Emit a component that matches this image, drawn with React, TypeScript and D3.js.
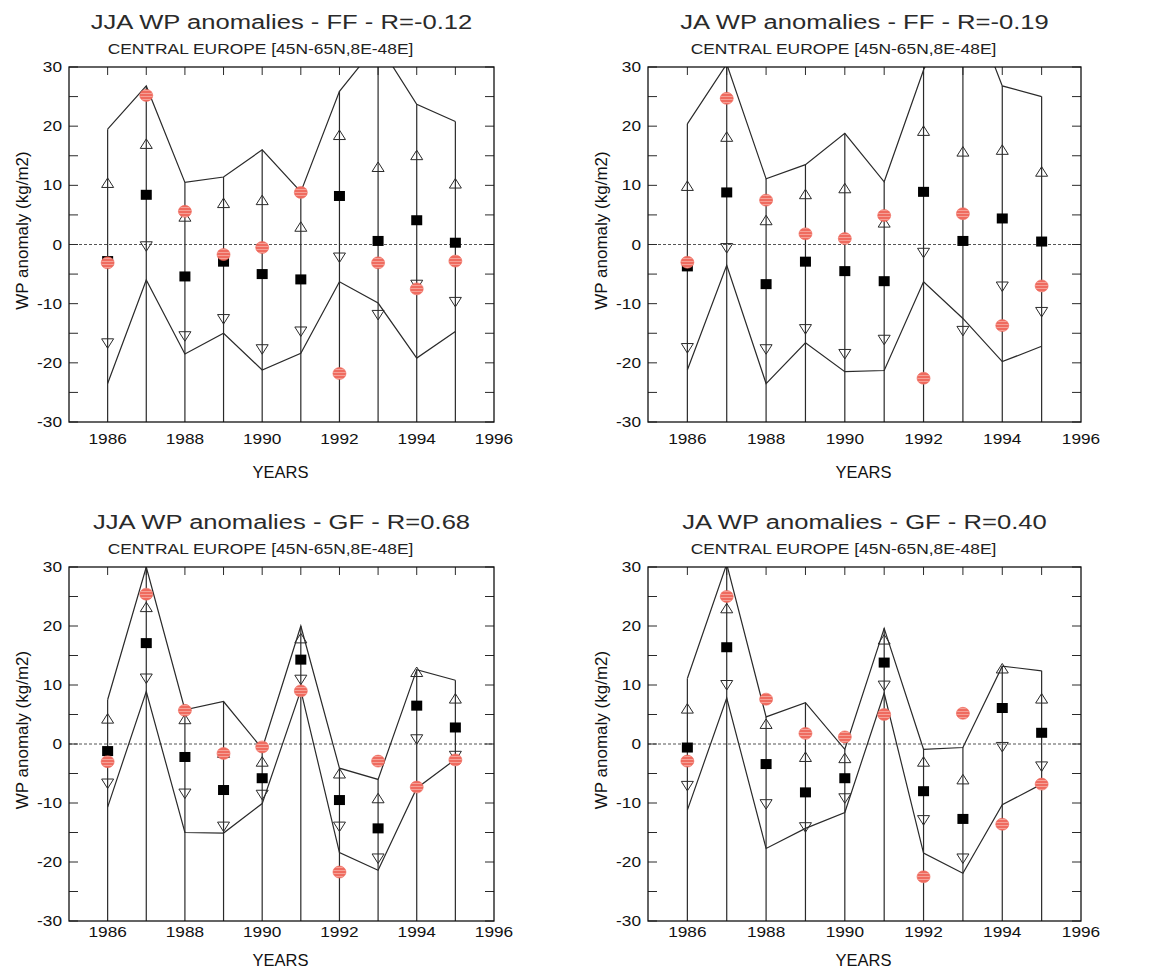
import React from 'react';
import * as d3 from 'd3';

// years on the x axis
const years = [1986, 1987, 1988, 1989, 1990, 1991, 1992, 1993, 1994, 1995];

// JJA - FF
const jjaFfUpper = [19.5, 26.8, 10.5, 11.4, 16.0, 8.9, 25.9, 34.0, 23.7, 20.8];
const jjaFfUpTri = [10.4, 17.0, 4.7, 7.0, 7.5, 3.0, 18.5, 13.1, 15.1, 10.3];
const jjaFfDownTri = [-16.7, -0.3, -15.5, -12.6, -17.7, -14.7, -2.2, -11.9, -6.8, -9.7];
const jjaFfMean = [-2.8, 8.4, -5.4, -2.9, -5.0, -5.9, 8.2, 0.6, 4.1, 0.3];
const jjaFfObs = [-3.1, 25.2, 5.6, -1.7, -0.5, 8.8, -21.8, -3.1, -7.5, -2.8];
const jjaFfLower = [-23.5, -6.0, -18.5, -15.0, -21.2, -18.4, -6.3, -9.9, -19.2, -14.7];

// JA - FF
const jaFfUpper = [20.4, 30.5, 11.1, 13.5, 18.8, 10.6, 29.5, 44.0, 26.8, 25.0];
const jaFfUpTri = [9.9, 18.2, 4.1, 8.5, 9.5, 3.7, 19.2, 15.7, 16.0, 12.3];
const jaFfDownTri = [-17.5, -0.6, -17.7, -14.3, -18.5, -16.1, -1.4, -14.6, -7.1, -11.4];
const jaFfMean = [-3.7, 8.8, -6.7, -2.9, -4.5, -6.2, 8.9, 0.6, 4.4, 0.5];
const jaFfObs = [-3.0, 24.7, 7.5, 1.8, 1.0, 4.9, -22.6, 5.2, -13.7, -7.0];
const jaFfLower = [-21.2, -3.5, -23.5, -16.6, -21.5, -21.3, -6.3, -12.5, -19.8, -17.2];

// JJA - GF
const jjaGfUpper = [7.5, 30.0, 5.8, 7.2, -0.8, 20.0, -4.1, -6.0, 12.6, 10.8];
const jjaGfUpTri = [4.3, 23.2, 4.2, -1.5, -3.0, 17.9, -5.0, -9.2, 12.2, 7.7];
const jjaGfDownTri = [-6.7, 11.1, -8.4, -14.0, -8.6, 10.9, -14.0, -19.4, 0.8, -2.0];
const jjaGfMean = [-1.2, 17.1, -2.2, -7.8, -5.8, 14.3, -9.5, -14.3, 6.5, 2.8];
const jjaGfObs = [-3.0, 25.4, 5.7, -1.6, -0.5, 9.0, -21.7, -2.9, -7.3, -2.7];
const jjaGfLower = [-10.7, 8.9, -15.0, -15.1, -10.1, 9.1, -18.4, -21.4, -7.5, -2.6];

// JA - GF
const jaGfUpper = [11.1, 30.5, 4.6, 7.0, -0.9, 19.6, -0.9, -0.6, 13.2, 12.4];
const jaGfUpTri = [6.0, 23.0, 3.4, -2.2, -2.4, 17.7, -3.0, -6.0, 12.8, 7.7];
const jaGfDownTri = [-7.1, 10.0, -10.2, -14.1, -9.2, 9.9, -12.9, -19.4, -0.5, -3.8];
const jaGfMean = [-0.6, 16.4, -3.4, -8.2, -5.8, 13.8, -8.0, -12.7, 6.1, 1.9];
const jaGfObs = [-2.9, 25.0, 7.6, 1.8, 1.2, 5.0, -22.5, 5.2, -13.6, -6.8];
const jaGfLower = [-11.2, 7.8, -17.7, -14.3, -11.6, 8.6, -18.5, -21.9, -10.3, -6.8];

const subtitle = 'CENTRAL EUROPE [45N-65N,8E-48E]';
const font = 'Liberation Sans, Arial, Helvetica, sans-serif';
const ink = '#2a2a2a';

const panels = [
  { id: 'p1', title: 'JJA WP anomalies - FF - R=-0.12', upper: jjaFfUpper, upTri: jjaFfUpTri, downTri: jjaFfDownTri, mean: jjaFfMean, obs: jjaFfObs, lower: jjaFfLower,
    left: 69, right: 494, top: 67, bottom: 422, tickGap: 22, yearsGap: 56 },
  { id: 'p2', title: 'JA WP anomalies - FF - R=-0.19', upper: jaFfUpper, upTri: jaFfUpTri, downTri: jaFfDownTri, mean: jaFfMean, obs: jaFfObs, lower: jaFfLower,
    left: 648, right: 1081, top: 67, bottom: 422, tickGap: 22, yearsGap: 56 },
  { id: 'p3', title: 'JJA WP anomalies - GF - R=0.68', upper: jjaGfUpper, upTri: jjaGfUpTri, downTri: jjaGfDownTri, mean: jjaGfMean, obs: jjaGfObs, lower: jjaGfLower,
    left: 69, right: 494, top: 567, bottom: 921, tickGap: 16, yearsGap: 45 },
  { id: 'p4', title: 'JA WP anomalies - GF - R=0.40', upper: jaGfUpper, upTri: jaGfUpTri, downTri: jaGfDownTri, mean: jaGfMean, obs: jaGfObs, lower: jaGfLower,
    left: 648, right: 1081, top: 567, bottom: 921, tickGap: 16, yearsGap: 45 },
];

function Panel({ p }) {
  const x = d3.scaleLinear().domain([1985, 1996]).range([p.left, p.right]);
  const y = d3.scaleLinear().domain([-30, 30]).range([p.bottom, p.top]);
  const line = d3.line().x((d, i) => x(years[i])).y((d) => y(d));
  const cx = (p.left + p.right) / 2;
  const cy = (p.top + p.bottom) / 2;
  const minor = y.ticks(12);
  const tri = 6;

  return (
    <g>
      <defs>
        <clipPath id={'clip-' + p.id}>
          <rect x={p.left} y={p.top} width={p.right - p.left} height={p.bottom - p.top} />
        </clipPath>
      </defs>

      {/* titles */}
      <text transform={`translate(${cx},${p.top - 38}) scale(1.28,1)`} textAnchor="middle" fontSize={20} fontFamily={font} fill="#2a2a2a">{p.title}</text>
      <text transform={`translate(${cx - 21},${p.top - 13}) scale(1.16,1)`} textAnchor="middle" fontSize={15} fontFamily={font} fill="#222">{subtitle}</text>

      {/* zero line */}
      <line x1={p.left} x2={p.right} y1={y(0)} y2={y(0)} stroke="#555" strokeWidth={1} strokeDasharray="3,2" />

      <g clipPath={`url(#clip-${p.id})`}>
        {years.map((yr, i) => (
          <line key={'v' + yr} x1={x(yr)} x2={x(yr)} y1={y(-30)} y2={y(Math.min(p.upper[i], 30))} stroke={ink} strokeWidth={1.2} />
        ))}
        <path d={line(p.upper)} fill="none" stroke={ink} strokeWidth={1.2} />
        <path d={line(p.lower)} fill="none" stroke={ink} strokeWidth={1.2} />
      </g>

      {/* ticks */}
      {minor.map((t) => (
        <g key={'yt' + t}>
          <line x1={p.left} x2={p.left + 9} y1={y(t)} y2={y(t)} stroke={ink} strokeWidth={1} />
          <line x1={p.right - 9} x2={p.right} y1={y(t)} y2={y(t)} stroke={ink} strokeWidth={1} />
        </g>
      ))}
      {years.map((yr) => (
        <line key={'xt' + yr} x1={x(yr)} x2={x(yr)} y1={p.top} y2={p.top + 8} stroke={ink} strokeWidth={1} />
      ))}
      <rect x={p.left} y={p.top} width={p.right - p.left} height={p.bottom - p.top} fill="none" stroke="#111" strokeWidth={1.3} />

      {/* markers */}
      {years.map((yr, i) => (
        <path key={'u' + yr} d={`M${x(yr) - tri},${y(p.upTri[i]) + 4.5}L${x(yr) + tri},${y(p.upTri[i]) + 4.5}L${x(yr)},${y(p.upTri[i]) - 5}Z`} fill="none" stroke={ink} strokeWidth={1} />
      ))}
      {years.map((yr, i) => (
        <path key={'d' + yr} d={`M${x(yr) - tri},${y(p.downTri[i]) - 4.5}L${x(yr) + tri},${y(p.downTri[i]) - 4.5}L${x(yr)},${y(p.downTri[i]) + 5}Z`} fill="none" stroke={ink} strokeWidth={1} />
      ))}
      {years.map((yr, i) => (
        <rect key={'m' + yr} x={x(yr) - 5.5} y={y(p.mean[i]) - 5} width={11} height={10} fill="#000" />
      ))}
      {years.map((yr, i) => (
        <ellipse key={'o' + yr} cx={x(yr)} cy={y(p.obs[i])} rx={6.5} ry={6} fill="url(#hatch)" stroke="#ee6558" strokeWidth={0.6} />
      ))}

      {/* axis labels */}
      {y.ticks(6).map((t) => (
        <text key={'yl' + t} transform={`translate(${p.left - 7},${y(t) + 5}) scale(1.15,1)`} textAnchor="end" fontSize={15} fontFamily={font} fill="#111">{t}</text>
      ))}
      {x.ticks(5).map((t) => (
        <text key={'xl' + t} transform={`translate(${x(t)},${p.bottom + p.tickGap}) scale(1.15,1)`} textAnchor="middle" fontSize={15} fontFamily={font} fill="#111">{d3.format('d')(t)}</text>
      ))}
      <text x={cx - 1} y={p.bottom + p.yearsGap} textAnchor="middle" fontSize={16.5} fontFamily={font} fill="#111">YEARS</text>
      <text transform={`translate(${p.left - 41},${cy - 14}) rotate(-90)`} textAnchor="middle" fontSize={17} fontFamily={font} fill="#111">WP anomaly (kg/m2)</text>
    </g>
  );
}

export default function App() {
  return (
    <svg width={1151} height={968} style={{ position: 'absolute', left: 0, top: 0, background: '#fff' }}>
      <defs>
        <pattern id="hatch" width={3} height={3} patternUnits="userSpaceOnUse">
          <rect width={3} height={3} fill="#ef6b5f" />
          <rect width={3} height={1} fill="#f5a197" />
        </pattern>
      </defs>
      <rect width={1151} height={968} fill="#fff" />
      {panels.map((p) => (
        <Panel key={p.id} p={p} />
      ))}
    </svg>
  );
}
